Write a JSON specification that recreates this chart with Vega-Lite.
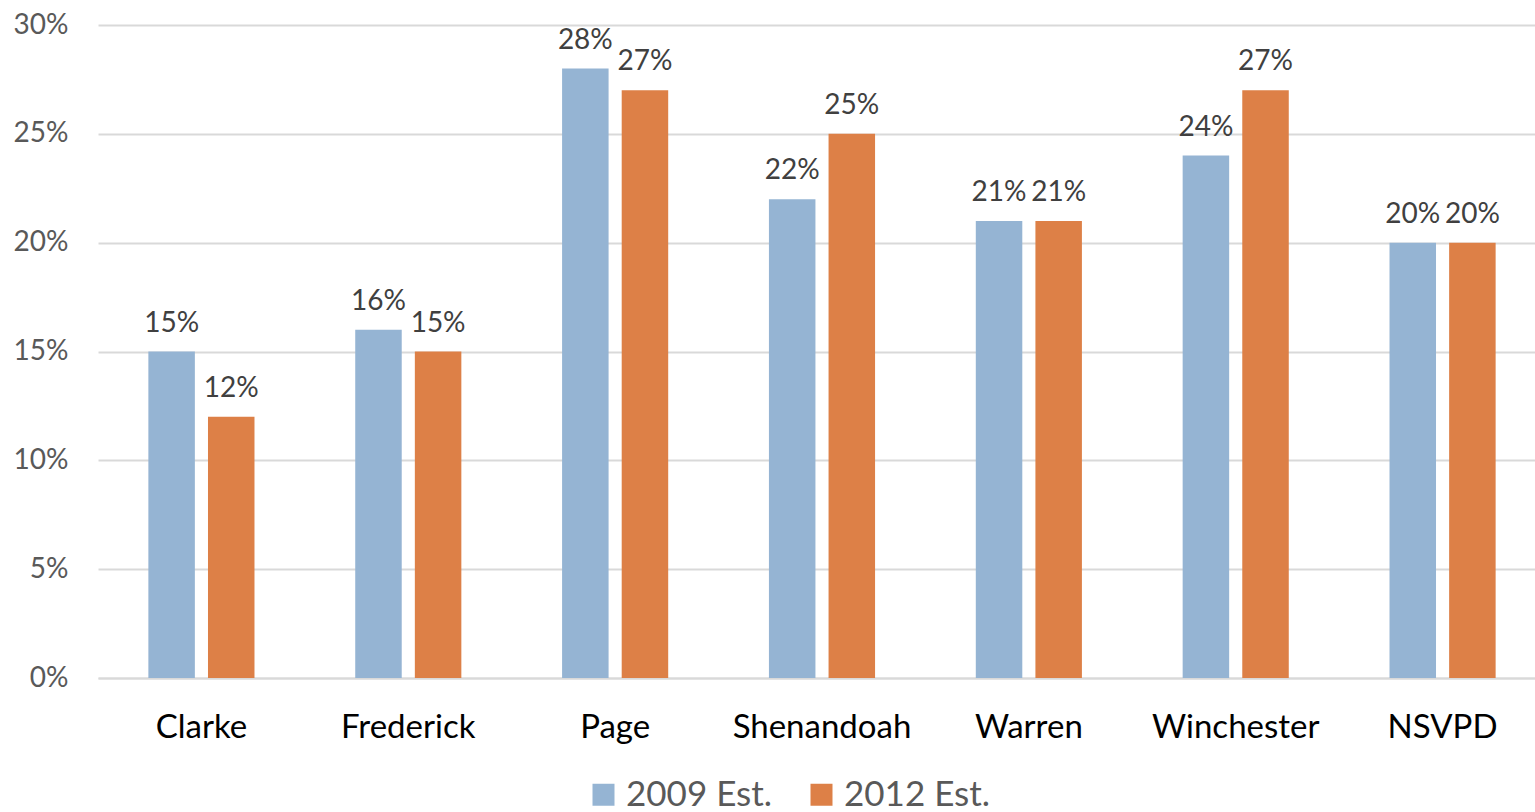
{
  "$schema": "https://vega.github.io/schema/vega-lite/v6.json",
  "width": 1448,
  "height": 653,
  "autosize": {"type": "none"},
  "padding": {"left": 98, "top": 25, "right": 0, "bottom": 134},
  "background": "white",
  "config": {"view": {"stroke": null}, "font": "Lato"},
  "data": {"values": [
    {"county": "Clarke", "series": "2009 Est.", "value": 0.15},
    {"county": "Clarke", "series": "2012 Est.", "value": 0.12},
    {"county": "Frederick", "series": "2009 Est.", "value": 0.16},
    {"county": "Frederick", "series": "2012 Est.", "value": 0.15},
    {"county": "Page", "series": "2009 Est.", "value": 0.28},
    {"county": "Page", "series": "2012 Est.", "value": 0.27},
    {"county": "Shenandoah", "series": "2009 Est.", "value": 0.22},
    {"county": "Shenandoah", "series": "2012 Est.", "value": 0.25},
    {"county": "Warren", "series": "2009 Est.", "value": 0.21},
    {"county": "Warren", "series": "2012 Est.", "value": 0.21},
    {"county": "Winchester", "series": "2009 Est.", "value": 0.24},
    {"county": "Winchester", "series": "2012 Est.", "value": 0.27},
    {"county": "NSVPD", "series": "2009 Est.", "value": 0.20},
    {"county": "NSVPD", "series": "2012 Est.", "value": 0.20}
  ]},
  "encoding": {
    "x": {
      "field": "county", "type": "nominal", "sort": null,
      "scale": {"paddingInner": 0.487, "paddingOuter": 0.2435},
      "axis": {"title": null, "labelAngle": 0, "labelFontSize": 33, "labelColor": "#000000",
        "labelPadding": 33, "ticks": false, "domainColor": "#d9d9d9", "domainWidth": 2}
    },
    "xOffset": {"field": "series", "type": "nominal", "scale": {"paddingInner": 0.22}},
    "y": {
      "field": "value", "type": "quantitative",
      "scale": {"domain": [0, 0.3], "nice": false},
      "axis": {"title": null, "format": ".0%", "values": [0, 0.05, 0.1, 0.15, 0.2, 0.25, 0.3],
        "labelFontSize": 28, "labelColor": "#595959", "labelPadding": 30,
        "domain": false, "ticks": false, "gridColor": "#d9d9d9", "gridWidth": 2}
    }
  },
  "layer": [
    {
      "mark": {"type": "bar"},
      "encoding": {
        "color": {
          "field": "series", "type": "nominal",
          "scale": {"range": ["#95b4d3", "#dd8047"]},
          "legend": {"title": null, "orient": "none", "direction": "horizontal",
            "legendX": 488, "legendY": 752, "symbolType": "square", "symbolSize": 484,
            "symbolStrokeWidth": 0, "labelFontSize": 35, "labelColor": "#595959",
            "labelOffset": 5, "columnPadding": 31, "labelLimit": 400}
        }
      }
    },
    {
      "mark": {"type": "text", "baseline": "bottom", "dy": -14, "fontSize": 28, "color": "#404040"},
      "encoding": {"text": {"field": "value", "type": "quantitative", "format": ".0%"}}
    }
  ]
}
